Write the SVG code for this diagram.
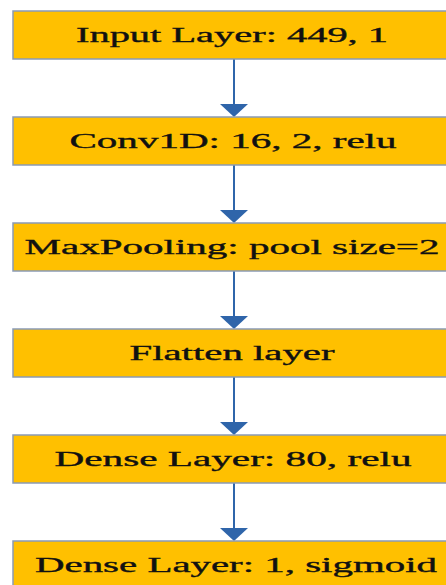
<svg xmlns="http://www.w3.org/2000/svg" width="446" height="585" viewBox="0 0 446 585">
<defs>
<style>
.box{fill:#FFC000;stroke:#8A9BB5;stroke-width:1.5}
.lbl{font-family:"Liberation Serif","Times New Roman",serif;font-size:20.5px;fill:#111;stroke:#111;stroke-width:0.35;text-anchor:middle}
.con{stroke:#2F65AA;stroke-width:2;fill:none}
.head{fill:#2F65AA}
</style>
</defs>
<rect width="446" height="585" fill="#ffffff"/>
<g id="connectors">
<line class="con" x1="234" y1="59" x2="234" y2="106"/>
<polygon class="head" points="220,104 248,104 234,117"/>
<line class="con" x1="234" y1="165" x2="234" y2="212"/>
<polygon class="head" points="220,210 248,210 234,223"/>
<line class="con" x1="234" y1="271" x2="234" y2="318"/>
<polygon class="head" points="220,316 248,316 234,329"/>
<line class="con" x1="234" y1="377" x2="234" y2="424"/>
<polygon class="head" points="220,422 248,422 234,435"/>
<line class="con" x1="234" y1="483" x2="234" y2="530"/>
<polygon class="head" points="220,528 248,528 234,541"/>
</g>
<g id="input">
<rect class="box" x="13" y="11" width="450" height="48"/>
<text class="lbl" x="232" y="42" textLength="312" lengthAdjust="spacingAndGlyphs">Input Layer: 449, 1</text>
</g>
<g id="conv1d">
<rect class="box" x="13" y="117" width="450" height="48"/>
<text class="lbl" x="233" y="148" textLength="327" lengthAdjust="spacingAndGlyphs">Conv1D: 16, 2, relu</text>
</g>
<g id="maxpool">
<rect class="box" x="13" y="223" width="450" height="48"/>
<text class="lbl" x="232" y="254" textLength="415" lengthAdjust="spacingAndGlyphs">MaxPooling: pool size=2</text>
</g>
<g id="flatten">
<rect class="box" x="13" y="329" width="450" height="48"/>
<text class="lbl" x="232" y="360" textLength="205" lengthAdjust="spacingAndGlyphs">Flatten layer</text>
</g>
<g id="dense80">
<rect class="box" x="13" y="435" width="450" height="48"/>
<text class="lbl" x="233" y="466" textLength="357" lengthAdjust="spacingAndGlyphs">Dense Layer: 80, relu</text>
</g>
<g id="dense1">
<rect class="box" x="13" y="541" width="450" height="60"/>
<text class="lbl" x="236" y="572" textLength="402" lengthAdjust="spacingAndGlyphs">Dense Layer: 1, sigmoid</text>
</g>
</svg>
